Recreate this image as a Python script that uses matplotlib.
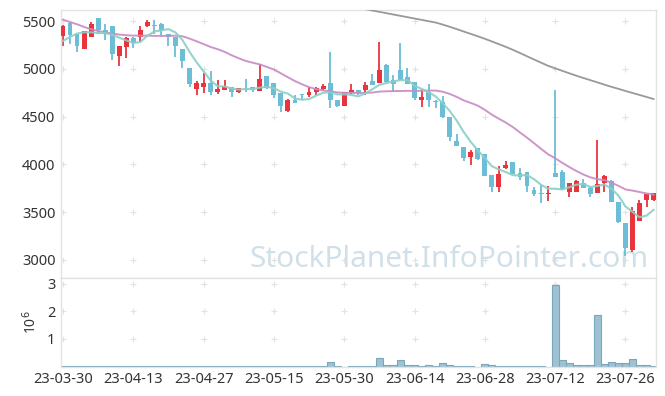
import numpy as np
import matplotlib
matplotlib.use('Agg')
import matplotlib.pyplot as plt

plt.rcParams['font.family'] = ['Noto Sans', 'DejaVu Sans']

# daily candles, 2023-03-30 .. 2023-08-01 (trading days)
opens = [5344, 5480, 5361, 5208, 5334, 5528, 5403, 5445, 5135, 5229,
         5327, 5334, 5448, 5460, 5466, 5361, 5334, 5205, 5010, 4784,
         4812, 4846, 4759, 4783, 4804, 4752, 4801, 4811, 4770, 4922,
         4846, 4742, 4557, 4672, 4735, 4724, 4752, 4787, 4846, 4672,
         4613, 4742, 4776, 4777, 4871, 4853, 5038, 4881, 4992, 4916,
         4864, 4672, 4759, 4660, 4655, 4498, 4247, 4185, 4081, 4168,
         4108, 3889, 3760, 3959, 4028, 3907, 3920, 3732, 3700, 3684,
         3907, 3920, 3705, 3705, 3802, 3757, 3698, 3802, 3826, 3604,
         3385, 3099, 3402, 3628, 3625]
highs = [5462, 5490, 5365, 5396, 5490, 5530, 5473, 5445, 5240, 5334,
         5330, 5445, 5514, 5508, 5480, 5365, 5334, 5205, 5010, 4874,
         4951, 4975, 4881, 4881, 4804, 4801, 4891, 4811, 5048, 4922,
         4846, 4742, 4680, 4724, 4735, 4811, 4811, 4836, 5177, 4672,
         4752, 4836, 4776, 4864, 4950, 5281, 5045, 4933, 5271, 5003,
         4864, 4776, 4836, 4672, 4714, 4498, 4314, 4185, 4150, 4168,
         4108, 3889, 3983, 4039, 4028, 3959, 3920, 3760, 3785, 3774,
         4783, 3941, 3802, 3837, 3844, 3774, 4254, 3889, 3837, 3604,
         3385, 3558, 3628, 3691, 3704]
lows = [5236, 5264, 5180, 5205, 5330, 5368, 5299, 5090, 5027, 5114,
        5222, 5281, 5438, 5361, 5348, 5236, 5125, 5013, 4812, 4721,
        4742, 4724, 4731, 4776, 4700, 4742, 4752, 4752, 4765, 4787,
        4689, 4543, 4543, 4644, 4672, 4707, 4724, 4780, 4585, 4603,
        4613, 4731, 4724, 4724, 4829, 4853, 4853, 4759, 4881, 4839,
        4672, 4596, 4596, 4585, 4481, 4247, 4195, 4039, 3993, 4046,
        3882, 3708, 3708, 3948, 3896, 3837, 3715, 3670, 3593, 3611,
        3865, 3732, 3656, 3705, 3750, 3663, 3698, 3705, 3604, 3385,
        3037, 3082, 3402, 3552, 3611]
closes = [5448, 5358, 5240, 5392, 5473, 5403, 5361, 5156, 5236, 5327,
          5271, 5410, 5487, 5450, 5396, 5334, 5240, 5083, 4836, 4853,
          4853, 4759, 4787, 4818, 4752, 4794, 4794, 4776, 4898, 4794,
          4724, 4613, 4672, 4644, 4727, 4752, 4801, 4822, 4672, 4613,
          4752, 4776, 4742, 4829, 4829, 4985, 4864, 4839, 4881, 4839,
          4690, 4700, 4672, 4652, 4491, 4282, 4195, 4070, 4133, 4056,
          3882, 3760, 3900, 3993, 3896, 3872, 3774, 3691, 3690, 3700,
          3865, 3739, 3802, 3826, 3750, 3691, 3795, 3879, 3604, 3395,
          3124, 3513, 3593, 3691, 3695]

# moving averages as drawn on the chart
ma5 = [5291, 5333, 5368, 5382, 5382, 5373, 5374, 5357, 5326, 5297,
       5270, 5280, 5346, 5389, 5403, 5415, 5381, 5301, 5178, 5069,
       4973, 4877, 4818, 4814, 4794, 4782, 4789, 4787, 4803, 4811,
       4797, 4761, 4740, 4689, 4676, 4682, 4719, 4749, 4755, 4732,
       4732, 4727, 4711, 4742, 4786, 4832, 4850, 4869, 4880, 4882,
       4823, 4790, 4756, 4711, 4641, 4559, 4458, 4338, 4234, 4147,
       4067, 3980, 3946, 3918, 3886, 3884, 3887, 3845, 3785, 3745,
       3744, 3737, 3759, 3786, 3796, 3762, 3773, 3788, 3744, 3673,
       3559, 3503, 3446, 3463, 3523]
ma20 = [5514, 5490, 5466, 5438, 5414, 5396, 5382, 5368, 5358, 5351,
        5347, 5347, 5347, 5344, 5344, 5344, 5347, 5340, 5316, 5288,
        5258, 5228, 5205, 5177, 5141, 5110, 5082, 5063, 5046, 5019,
        4992, 4952, 4911, 4871, 4838, 4808, 4787, 4773, 4765, 4753,
        4748, 4749, 4747, 4747, 4751, 4761, 4764, 4767, 4767, 4769,
        4767, 4771, 4771, 4772, 4760, 4737, 4706, 4669, 4642, 4614,
        4570, 4520, 4477, 4436, 4389, 4333, 4279, 4221, 4162, 4105,
        4064, 4016, 3972, 3931, 3894, 3864, 3844, 3835, 3808, 3775,
        3737, 3725, 3710, 3695, 3684]
ma120_start = 43
ma120 = [5625, 5610, 5596, 5582, 5568, 5554, 5540, 5526, 5512, 5498,
         5484, 5463, 5440, 5415, 5390, 5365, 5340, 5314, 5286, 5258,
         5229, 5198, 5165, 5131, 5097, 5064, 5031, 5005, 4979, 4953,
         4928, 4904, 4881, 4858, 4834, 4811, 4790, 4768, 4747, 4726,
         4705, 4683]

volume = [35e3, 35e3, 8e3, 8e3, 35e3, 8e3, 8e3, 35e3, 35e3, 8e3,
          8e3, 8e3, 35e3, 8e3, 35e3, 8e3, 35e3, 8e3, 35e3, 35e3,
          8e3, 8e3, 8e3, 8e3, 35e3, 8e3, 8e3, 8e3, 35e3, 8e3,
          8e3, 35e3, 35e3, 35e3, 8e3, 8e3, 8e3, 8e3, 160e3, 25e3,
          5e3, 25e3, 25e3, 25e3, 25e3, 300e3, 50e3, 50e3, 240e3, 50e3,
          50e3, 15e3, 50e3, 15e3, 120e3, 50e3, 20e3, 20e3, 20e3, 5e3,
          85e3, 50e3, 15e3, 15e3, 15e3, 15e3, 15e3, 15e3, 15e3, 5e3,
          2940e3, 240e3, 120e3, 50e3, 50e3, 50e3, 1870e3, 85e3, 160e3, 120e3,
          120e3, 270e3, 50e3, 50e3, 15e3]

tick_labels = ['23-03-30', '23-04-13', '23-04-27', '23-05-15', '23-05-30',
               '23-06-14', '23-06-28', '23-07-12', '23-07-26']

UP = '#e8343c'
DOWN = '#6bbed6'
GRID = '#e2e2e2'
SPINE = '#e3e3e3'
TXT = '#333333'

n = len(closes)
x = np.arange(n)
o = np.array(opens)
c = np.array(closes)
colors = [UP if cc >= oo else DOWN for oo, cc in zip(o, c)]

fig = plt.figure(figsize=(6.65, 3.96), dpi=100)
ax = fig.add_axes([0.0917, 0.298, 0.8948, 0.6767])
axv = fig.add_axes([0.0917, 0.074, 0.8948, 0.224], sharex=ax)

# candles
ax.vlines(x, lows, highs, colors=colors, linewidth=1.3, zorder=2)
body_lo = np.minimum(o, c)
body_h = np.maximum(np.abs(c - o), 8)
ax.bar(x, body_h, bottom=body_lo, width=0.7, color=colors, linewidth=0, zorder=3)

ax.plot(np.arange(ma120_start, ma120_start + len(ma120)), ma120,
        color='#999999', linewidth=1.3, zorder=4)
ax.plot(x, ma20, color='#c98ac6', linewidth=1.4, alpha=0.9, zorder=4)
ax.plot(x, ma5, color='#8ccfc6', linewidth=1.5, alpha=0.9, zorder=4)

ax.set_ylim(2810, 5615)
ax.set_xlim(-0.28, 84.35)
ax.set_yticks([3000, 3500, 4000, 4500, 5000, 5500])

ax.text(0.652, 0.042, 'StockPlanet.InfoPointer.com', transform=ax.transAxes,
        ha='center', va='baseline', fontsize=21.5, color='#c9dbe5', alpha=0.85,
        zorder=1)

# volume
axv.bar(x, volume, width=1.0, color='#9fc2d2', edgecolor='#78a6ba',
        linewidth=0.8, zorder=2)
axv.set_ylim(0, 3.2e6)
axv.set_yticks([1e6, 2e6, 3e6])
axv.set_yticklabels(['1', '2', '3'])
axv.set_ylabel('10$^6$', color=TXT, fontsize=10, labelpad=5)

xt = np.arange(0, n, 10)
axv.set_xticks(xt)
axv.set_xticklabels(tick_labels)
plt.setp(ax.get_xticklabels(), visible=False)

for a in (ax, axv):
    for s in a.spines.values():
        s.set_color(SPINE)
        s.set_linewidth(1.0)
    a.tick_params(length=0, labelsize=10.5, colors=TXT, pad=4)
    gx, gy = np.meshgrid(a.get_xticks(), a.get_yticks())
    a.plot(gx.ravel(), gy.ravel(), '+', color=GRID, markersize=4.5,
           markeredgewidth=0.8, zorder=0)

ax.set_xlim(-0.28, 84.35)
ax.set_ylim(2810, 5615)
axv.set_ylim(0, 3.2e6)

fig.savefig('out.png', dpi=100)
